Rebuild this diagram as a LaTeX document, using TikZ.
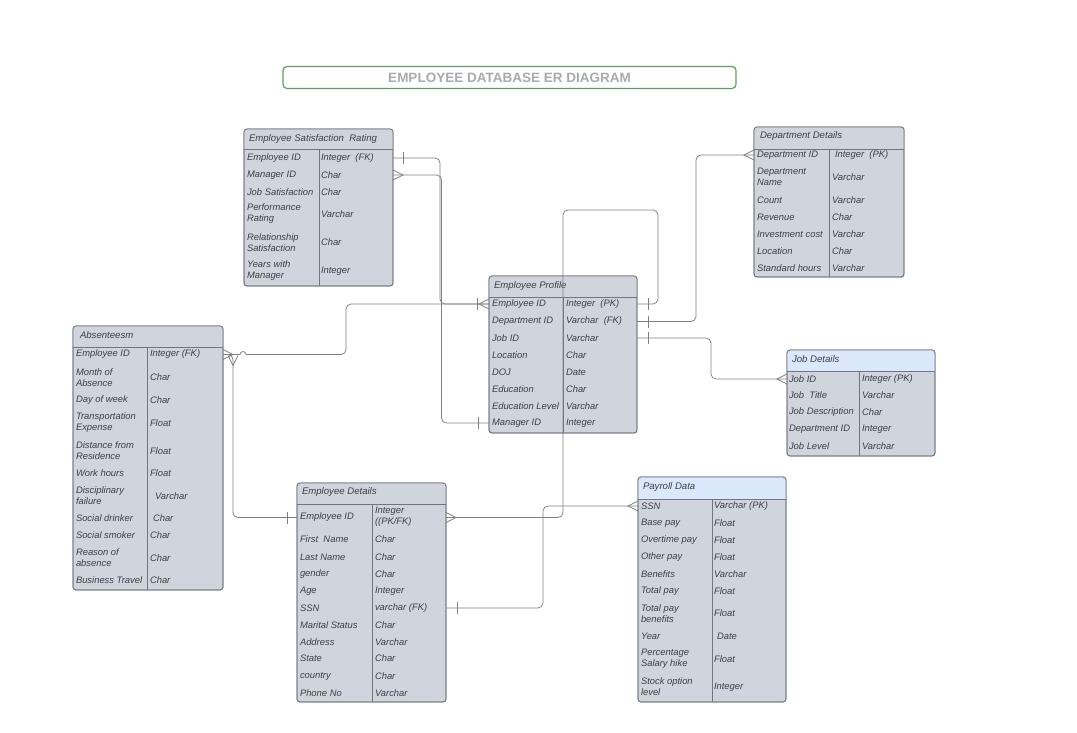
\documentclass[tikz,border=0pt]{standalone}
\usepackage{fontspec}
\setmainfont{Liberation Sans}
\usetikzlibrary{calc}
\definecolor{tbody}{RGB}{207,212,221}
\definecolor{thead}{RGB}{218,232,252}
\definecolor{bord}{RGB}{112,117,126}
\definecolor{lnk}{RGB}{128,128,128}
\definecolor{txt}{RGB}{62,64,70}
\definecolor{ttlg}{RGB}{92,160,96}
\definecolor{ttlt}{RGB}{168,170,176}
\tikzset{
 tbox/.style={draw=bord, fill=tbody, line width=0.8pt, rounded corners=3pt, anchor=north west, inner sep=0pt, outer sep=0pt},
 sepline/.style={draw=bord, line width=0.8pt},
 cell/.style={anchor=west, inner sep=0pt, outer sep=0pt, font=\fontsize{9.4}{11}\selectfont\itshape, text=txt, align=left},
 hcell/.style={anchor=west, inner sep=0pt, outer sep=0pt, font=\fontsize{9.6}{11}\selectfont\itshape, text=txt},
 conn/.style={draw=lnk, line width=0.75pt, rounded corners=5pt},
 mk/.style={draw=lnk, line width=0.75pt}
}
\newcommand{\ertable}[8]{%
 \node[tbox, minimum width=#4pt, minimum height=#5pt] (#1) at (#2,#3) {};
 \fill[#8, rounded corners=3pt] (#1.north west) rectangle ([yshift=-#6pt]#1.north east);
 \fill[#8] ([yshift=-#6pt+4pt]#1.north west) rectangle ([yshift=-#6pt]#1.north east);
 \draw[sepline] ([yshift=-#6pt]#1.north west) -- ([yshift=-#6pt]#1.north east);
 \draw[sepline] ([xshift=#7pt,yshift=-#6pt]#1.north west) -- ([xshift=#7pt]#1.south west);
 \draw[sepline, rounded corners=3pt] (#1.north west) rectangle (#1.south east);
}
\newcommand{\barmark}[2]{\draw[mk] ($(#1)+(#2,-6)$) -- ($(#1)+(#2,6)$);}
\newcommand{\crowR}[1]{\draw[mk] ($(#1)+(0,-5)$) -- ($(#1)+(10,0)$) -- ($(#1)+(0,5)$);}
\newcommand{\crowL}[1]{\draw[mk] ($(#1)+(0,-5)$) -- ($(#1)+(-10,0)$) -- ($(#1)+(0,5)$);}
\begin{document}
\begin{tikzpicture}[x=1pt,y=-1pt]
\useasboundingbox (0,0) rectangle (1077,732);
\fill[white] (0,0) rectangle (1077,732);

% title
\node[draw=ttlg, line width=1.2pt, rounded corners=4pt, minimum width=453pt, minimum height=22pt, inner sep=0pt,
      font=\fontsize{13.5}{15}\selectfont\bfseries, text=ttlt] (title) at (509.5,77.5) {EMPLOYEE DATABASE ER DIAGRAM};

% ---------- Employee Satisfaction Rating
\ertable{esr}{244}{129}{149}{157}{20}{75}{tbody}
\node[hcell] (esr-h) at (249,139) {Employee Satisfaction~ Rating};
\node[cell] (esr-1) at (247,158) {Employee ID};          \node[cell] (esr-1t) at (321,158) {Integer~ (FK)};
\node[cell] (esr-2) at (247,175) {Manager ID};           \node[cell] (esr-2t) at (321,175) {Char};
\node[cell] (esr-3) at (247,192) {Job Satisfaction};     \node[cell] (esr-3t) at (321,192) {Char};
\node[cell] (esr-4) at (247,214) {Performance\\Rating};  \node[cell] (esr-4t) at (321,214) {Varchar};
\node[cell] (esr-5) at (247,242.5) {Relationship\\Satisfaction}; \node[cell] (esr-5t) at (321,242.5) {Char};
\node[cell] (esr-6) at (247,271) {Years with\\Manager};  \node[cell] (esr-6t) at (321,271) {Integer};

% ---------- Employee Profile
\ertable{ep}{489}{276}{148}{157}{21}{74}{tbody}
\node[hcell] (ep-h) at (494,286) {Employee Profile};
\node[cell] (ep-1) at (492,304) {Employee ID};      \node[cell] (ep-1t) at (566,304) {Integer~ (PK)};
\node[cell] (ep-2) at (492,321.5) {Department ID};  \node[cell] (ep-2t) at (566,321.5) {Varchar~ (FK)};
\node[cell] (ep-3) at (492,338) {Job ID};           \node[cell] (ep-3t) at (566,338) {Varchar};
\node[cell] (ep-4) at (492,355) {Location};         \node[cell] (ep-4t) at (566,355) {Char};
\node[cell] (ep-5) at (492,372) {DOJ};              \node[cell] (ep-5t) at (566,372) {Date};
\node[cell] (ep-6) at (492,389) {Education};        \node[cell] (ep-6t) at (566,389) {Char};
\node[cell] (ep-7) at (492,406) {Education Level};  \node[cell] (ep-7t) at (566,406) {Varchar};
\node[cell] (ep-8) at (492,423) {Manager ID};       \node[cell] (ep-8t) at (566,423) {Integer};

% ---------- Department Details
\ertable{dd}{754}{127}{150}{150}{22}{75}{tbody}
\node[hcell] (dd-h) at (760,136) {Department Details};
\node[cell] (dd-1) at (757,155) {Department ID};     \node[cell] (dd-1t) at (832,155) {\hspace{3pt}Integer~ (PK)};
\node[cell] (dd-2) at (757,177) {Department\\Name};  \node[cell] (dd-2t) at (832,177.5) {Varchar};
\node[cell] (dd-3) at (757,200) {Count};             \node[cell] (dd-3t) at (832,200) {Varchar};
\node[cell] (dd-4) at (757,217.5) {Revenue};         \node[cell] (dd-4t) at (832,217.5) {Char};
\node[cell] (dd-5) at (757,234) {Investment cost};   \node[cell] (dd-5t) at (832,234) {Varchar};
\node[cell] (dd-6) at (757,251) {Location};          \node[cell] (dd-6t) at (832,251) {Char};
\node[cell] (dd-7) at (757,268) {Standard hours};    \node[cell] (dd-7t) at (832,268) {Varchar};

% ---------- Job Details
\ertable{jd}{787}{350}{148}{106}{21}{72}{thead}
\node[hcell] (jd-h) at (792,359.5) {Job Details};
\node[cell] (jd-1) at (789,379) {Job ID};           \node[cell] (jd-1t) at (862,379) {Integer (PK)};
\node[cell] (jd-2) at (789,395.5) {Job~ Title};     \node[cell] (jd-2t) at (862,395.5) {Varchar};
\node[cell] (jd-3) at (789,412.5) {Job Description};\node[cell] (jd-3t) at (862,412.5) {Char};
\node[cell] (jd-4) at (789,429) {Department ID};    \node[cell] (jd-4t) at (862,429) {Integer};
\node[cell] (jd-5) at (789,446) {Job Level};        \node[cell] (jd-5t) at (862,446) {Varchar};

% ---------- Absenteesm
\ertable{abs}{73}{326}{150}{264}{21}{74}{tbody}
\node[hcell] (abs-h) at (80,335.5) {Absenteesm};
\node[cell] (abs-1) at (76,354.5) {Employee ID};                \node[cell] (abs-1t) at (150,354.5) {Integer (FK)};
\node[cell] (abs-2) at (76,378) {Month of\\Absence};            \node[cell] (abs-2t) at (150,377.5) {Char};
\node[cell] (abs-3) at (76,400) {Day of week};                  \node[cell] (abs-3t) at (150,400) {Char};
\node[cell] (abs-4) at (76,422.5) {Transportation\\Expense};    \node[cell] (abs-4t) at (150,423) {Float};
\node[cell] (abs-5) at (76,451) {Distance from\\Residence};     \node[cell] (abs-5t) at (150,451) {Float};
\node[cell] (abs-6) at (76,473) {Work hours};                   \node[cell] (abs-6t) at (150,473) {Float};
\node[cell] (abs-7) at (76,496) {Disciplinary\\failure};        \node[cell] (abs-7t) at (150,496) {\hspace{5pt}Varchar};
\node[cell] (abs-8) at (76,518) {Social drinker};               \node[cell] (abs-8t) at (150,518) {\hspace{3pt}Char};
\node[cell] (abs-9) at (76,535) {Social smoker};                \node[cell] (abs-9t) at (150,535) {Char};
\node[cell] (abs-10) at (76,558) {Reason of\\absence};          \node[cell] (abs-10t) at (150,558) {Char};
\node[cell] (abs-11) at (76,580) {Business Travel};             \node[cell] (abs-11t) at (150,580) {Char};

% ---------- Employee Details
\ertable{ed}{297}{483}{149}{219}{21}{75}{tbody}
\node[hcell] (ed-h) at (302,492.5) {Employee Details};
\node[cell] (ed-1) at (300,517.5) {Employee ID};   \node[cell] (ed-1t) at (375,517) {Integer\\((PK/FK)};
\node[cell] (ed-2) at (300,539) {First~ Name};     \node[cell] (ed-2t) at (375,539) {Char};
\node[cell] (ed-3) at (300,557) {Last Name};       \node[cell] (ed-3t) at (375,557) {Char};
\node[cell] (ed-4) at (300,574) {gender};          \node[cell] (ed-4t) at (375,574) {Char};
\node[cell] (ed-5) at (300,591) {Age};             \node[cell] (ed-5t) at (375,591) {Integer};
\node[cell] (ed-6) at (300,608) {SSN};             \node[cell] (ed-6t) at (375,608) {varchar (FK)};
\node[cell] (ed-7) at (300,625) {Marital Status};  \node[cell] (ed-7t) at (375,625) {Char};
\node[cell] (ed-8) at (300,642) {Address};         \node[cell] (ed-8t) at (375,642) {Varchar};
\node[cell] (ed-9) at (300,658.5) {State};         \node[cell] (ed-9t) at (375,658.5) {Char};
\node[cell] (ed-10) at (300,676) {country};        \node[cell] (ed-10t) at (375,676) {Char};
\node[cell] (ed-11) at (300,693) {Phone No};       \node[cell] (ed-11t) at (375,693) {Varchar};

% ---------- Payroll Data
\ertable{pd}{638}{477}{148}{225}{22}{74}{thead}
\node[hcell] (pd-h) at (643,487) {Payroll Data};
\node[cell] (pd-1) at (641,506) {SSN};                       \node[cell] (pd-1t) at (714,506) {Varchar (PK)};
\node[cell] (pd-2) at (641,523) {Base pay};                  \node[cell] (pd-2t) at (714,523) {Float};
\node[cell] (pd-3) at (641,540.5) {Overtime pay};            \node[cell] (pd-3t) at (714,540.5) {Float};
\node[cell] (pd-4) at (641,557) {Other pay};                 \node[cell] (pd-4t) at (714,557) {Float};
\node[cell] (pd-5) at (641,574) {Benefits};                  \node[cell] (pd-5t) at (714,574) {Varchar};
\node[cell] (pd-6) at (641,591) {Total pay};                 \node[cell] (pd-6t) at (714,591) {Float};
\node[cell] (pd-7) at (641,613.5) {Total pay\\benefits};     \node[cell] (pd-7t) at (714,613.5) {Float};
\node[cell] (pd-8) at (641,636) {Year};                      \node[cell] (pd-8t) at (714,636) {\hspace{3pt}Date};
\node[cell] (pd-9) at (641,659) {Percentage\\Salary hike};   \node[cell] (pd-9t) at (714,659) {Float};
\node[cell] (pd-10) at (641,687) {Stock option\\level};      \node[cell] (pd-10t) at (714,687) {Integer};

% ---------- connectors
\coordinate (k1) at (440,0);
\coordinate (k2) at (441.5,0);
\coordinate (k3) at (346,0);
\coordinate (k4) at (233,0);
\coordinate (k5a) at (658,210);
\coordinate (k5b) at (563,0);
\coordinate (k6) at (696,0);
\coordinate (k7) at (711,0);
\coordinate (k8) at (543,0);

\draw[conn] (esr.east |- esr-1) -| (k1 |- ep-1) -- (ep.west |- ep-1);
\draw[conn] (esr.east |- esr-2) -| (k2 |- ep-8) -- (ep.west |- ep-8);
\draw[mk] (abs.east |- abs-1) -- ++(17,0) arc[start angle=180,end angle=360,radius=3];
\draw[conn] ($(abs.east |- abs-1)+(23,0)$) -| (k3 |- ep-1) -- (ep.west |- ep-1);
\draw[conn] (abs.east |- abs-1) -| (k4 |- ed-1) -- (ed.west |- ed-1);
\draw[conn] (ep.east |- ep-1) -| (k5a) -| (k5b |- ed-1) -- (ed.east |- ed-1);
\draw[conn] (ep.east |- ep-2) -| (k6 |- dd-1) -- (dd.west |- dd-1);
\draw[conn] (ep.east |- ep-3) -| (k7 |- jd-1) -- (jd.west |- jd-1);
\draw[conn] (pd.west |- pd-1) -| (k8 |- ed-6) -- (ed.east |- ed-6);

% ---------- end marks
\barmark{esr.east |- esr-1}{10}
\crowR{esr.east |- esr-2}
\barmark{ep.west |- ep-1}{-12}
\crowL{ep.west |- ep-1}
\barmark{ep.west |- ep-8}{-11}
\crowR{abs.east |- abs-1}
\draw[mk] ($(k4 |- abs-1)+(-5,1)$) -- ($(k4 |- abs-1)+(0,11)$) -- ($(k4 |- abs-1)+(5,1)$);
\barmark{ed.west |- ed-1}{-10}
\barmark{ep.east |- ep-1}{11}
\barmark{ep.east |- ep-2}{11}
\barmark{ep.east |- ep-3}{11}
\crowR{ed.east |- ed-1}
\crowL{dd.west |- dd-1}
\crowL{jd.west |- jd-1}
\crowL{pd.west |- pd-1}
\barmark{ed.east |- ed-6}{11}
\end{tikzpicture}
\end{document}
